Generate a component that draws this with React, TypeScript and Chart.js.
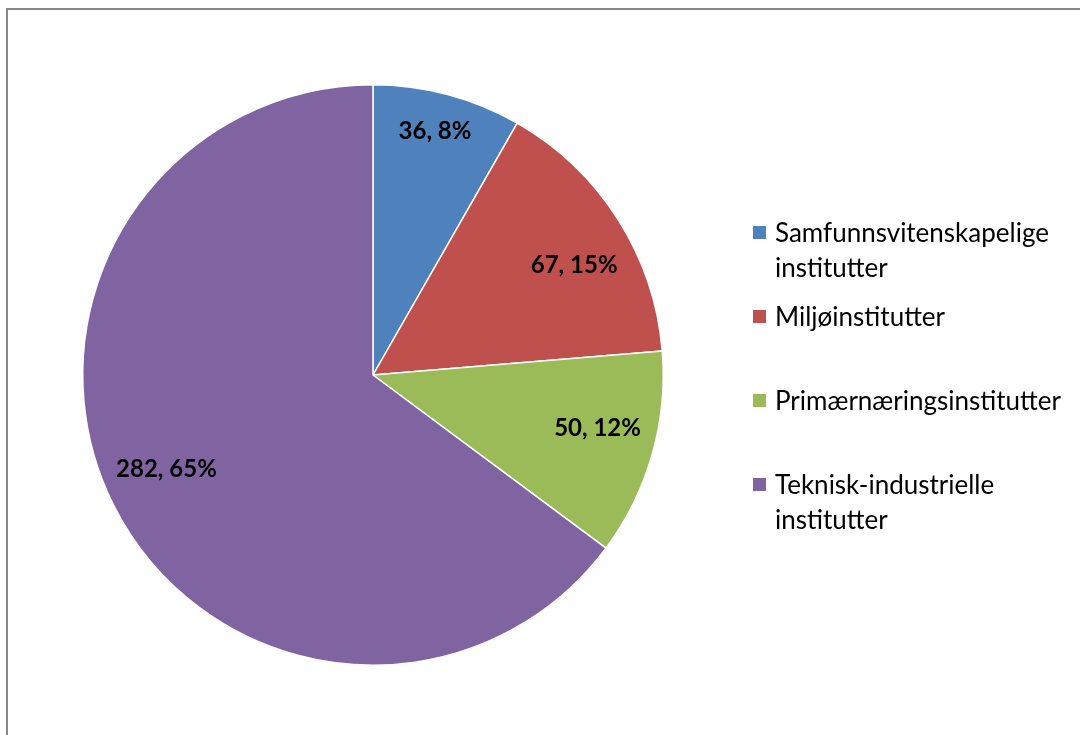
import React, { useEffect, useRef } from "react";
import { Chart, registerables } from "chart.js";

Chart.register(...registerables);

const categories: string[][] = [
  ["Samfunnsvitenskapelige", "institutter"],
  ["Miljøinstitutter"],
  ["Primærnæringsinstitutter"],
  ["Teknisk-industrielle", "institutter"],
];
const values: number[] = [36, 67, 50, 282];
const percentLabels: string[] = ["8%", "15%", "12%", "65%"];
const colors: string[] = ["#4F81BD", "#C0504D", "#9BBB59", "#8064A2"];
// label placement style (relative to each slice's own geometry)
const labelRadiusFactor: number[] = [0.865, 0.79, 0.795, 0.782];
const labelAngleShiftDeg: number[] = [-0.6, 3.8, -2.6, 2.2];

const FONT = "Lato, 'Open Sans', sans-serif";

const labelPlugin = {
  id: "sliceLabels",
  afterDatasetsDraw(chart: any) {
    const ctx = chart.ctx;
    const meta = chart.getDatasetMeta(0);
    ctx.save();
    ctx.font = `bold 24px ${FONT}`;
    ctx.fillStyle = "#000";
    ctx.textAlign = "center";
    ctx.textBaseline = "middle";
    meta.data.forEach((arc: any, i: number) => {
      const { x, y, startAngle, endAngle, outerRadius } = arc.getProps(
        ["x", "y", "startAngle", "endAngle", "outerRadius"],
        true
      );
      const mid = (startAngle + endAngle) / 2 + (labelAngleShiftDeg[i] * Math.PI) / 180;
      const r = outerRadius * labelRadiusFactor[i];
      ctx.fillText(
        `${values[i]}, ${percentLabels[i]}`,
        x + Math.cos(mid) * r,
        y + Math.sin(mid) * r
      );
    });
    ctx.restore();
  },
};

export default function App() {
  const ref = useRef<HTMLCanvasElement>(null);
  useEffect(() => {
    if (!ref.current) return;
    const chart = new Chart(ref.current, {
      type: "pie",
      data: {
        labels: categories.map((c) => c.join(" ")),
        datasets: [
          {
            data: values,
            backgroundColor: colors,
            borderColor: "#ffffff",
            borderWidth: 1.5,
          },
        ],
      },
      options: {
        animation: false,
        responsive: false,
        maintainAspectRatio: false,
        layout: { padding: { left: 82, right: 416, top: 84, bottom: 69 } },
        plugins: {
          legend: { display: false },
          tooltip: { enabled: false },
        },
      },
      plugins: [labelPlugin],
    });
    return () => chart.destroy();
  }, []);

  const legendTops = [220, 304, 388, 472];

  return (
    <div style={{ position: "absolute", left: 0, top: 0, width: 1080, height: 735, overflow: "hidden", background: "#fff" }}>
      <div
        style={{
          position: "absolute",
          left: 6,
          top: 8,
          width: 1200,
          height: 900,
          border: "2px solid #898989",
          boxSizing: "border-box",
        }}
      />
      <canvas ref={ref} width={1080} height={735} style={{ position: "absolute", left: 0, top: 0, width: 1080, height: 735 }} />
      {categories.map((lines, i) => (
        <div
          key={i}
          style={{
            position: "absolute",
            left: 753,
            top: legendTops[i],
            fontFamily: FONT,
            fontSize: 26,
            lineHeight: "35px",
            color: "#000",
            whiteSpace: "nowrap",
          }}
        >
          <span
            style={{
              position: "absolute",
              left: 0,
              top: 6,
              width: 13,
              height: 13,
              background: colors[i],
            }}
          />
          <div style={{ marginLeft: 22, marginTop: -5 }}>
            {lines.map((l, j) => (
              <div key={j}>{l}</div>
            ))}
          </div>
        </div>
      ))}
    </div>
  );
}
